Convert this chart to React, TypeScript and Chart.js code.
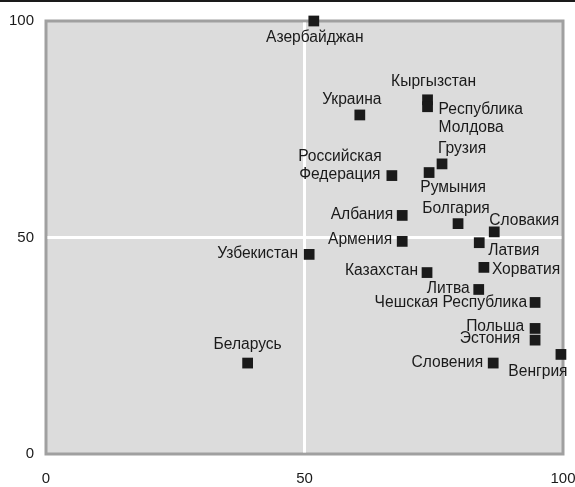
import React, { useEffect, useRef } from "react";
import { Chart, registerables } from "chart.js";

Chart.register(...registerables);

// ---- data ----
const countries = [
  "Азербайджан", "Украина", "Кыргызстан", "Республика Молдова", "Грузия",
  "Румыния", "Российская Федерация", "Албания", "Болгария", "Словакия",
  "Армения", "Латвия", "Узбекистан", "Казахстан", "Хорватия", "Литва",
  "Чешская Республика", "Польша", "Эстония", "Словения", "Венгрия", "Беларусь",
];
const xValues = [51.8, 60.7, 73.8, 73.8, 76.6, 74.1, 66.9, 68.9, 79.7, 86.7, 68.9, 83.8, 50.9, 73.7, 84.7, 83.7, 94.6, 94.6, 94.6, 86.5, 99.6, 39.0];
const yValues = [100, 78.3, 81.8, 80.2, 67.0, 65.0, 64.3, 55.1, 53.2, 51.3, 49.1, 48.8, 46.1, 41.9, 43.1, 38.0, 35.0, 29.0, 26.3, 21.0, 23.0, 21.0];
const tickValues = [0, 50, 100];
const referenceX = 50;
const referenceY = 50;

// ---- label placement (style): [align, dx, dy, wrap] ----
const labelPlacement: [string, number, number, boolean][] = [
  ["center", 1, 17, false],
  ["center", -8, -15, false],
  ["center", 6, -18, false],
  ["left", 11, 3, true],
  ["center", 20, -15, false],
  ["center", 24, 15, false],
  ["center", -52, -19, true],
  ["right", -9, -1, false],
  ["center", -2, -15, false],
  ["left", -5, -11, false],
  ["right", -10, -2, false],
  ["left", 9, 8, false],
  ["right", -11, -1, false],
  ["right", -9, -2, false],
  ["left", 8, 2, false],
  ["right", -9, -1, false],
  ["right", -8, 0, false],
  ["right", -11, -2, false],
  ["right", -15, -1, false],
  ["right", -10, 0, false],
  ["center", -23, 17, false],
  ["center", 0, -18, false],
];

const FONT = "Liberation Sans, Arial, sans-serif";

const plotDecor = {
  id: "plotDecor",
  beforeDraw(chart: any) {
    const { ctx, chartArea: a, scales } = chart;
    ctx.save();
    ctx.fillStyle = "#ffffff";
    ctx.fillRect(0, 0, chart.width, chart.height);
    ctx.fillStyle = "#1a1a1a";
    ctx.fillRect(0, 0, chart.width, 2);
    ctx.fillStyle = "#dcdcdc";
    ctx.fillRect(a.left, a.top, a.right - a.left, a.bottom - a.top);
    ctx.strokeStyle = "#a0a0a0";
    ctx.lineWidth = 3;
    ctx.strokeRect(a.left, a.top, a.right - a.left, a.bottom - a.top);
    const xp = scales.x.getPixelForValue(referenceX);
    const yp = scales.y.getPixelForValue(referenceY);
    ctx.strokeStyle = "#ffffff";
    ctx.lineWidth = 3;
    ctx.beginPath();
    ctx.moveTo(xp, a.top + 1.5);
    ctx.lineTo(xp, a.bottom - 1.5);
    ctx.moveTo(a.left + 1.5, yp);
    ctx.lineTo(a.right - 1.5, yp);
    ctx.stroke();
    ctx.restore();
  },
};

const pointLabels = {
  id: "pointLabels",
  afterDatasetsDraw(chart: any) {
    const { ctx } = chart;
    const meta = chart.getDatasetMeta(0);
    ctx.save();
    ctx.font = `15.6px ${FONT}`;
    ctx.fillStyle = "#1a1a1a";
    ctx.textBaseline = "middle";
    meta.data.forEach((pt: any, i: number) => {
      const [align, dx, dy, wrap] = labelPlacement[i];
      ctx.textAlign = align as CanvasTextAlign;
      const lines = wrap ? countries[i].split(" ") : [countries[i]];
      lines.forEach((line, j) => {
        ctx.fillText(line, pt.x + dx, pt.y + dy + j * 18);
      });
    });
    ctx.restore();
  },
};

export default function App() {
  const ref = useRef<HTMLCanvasElement>(null);
  useEffect(() => {
    if (!ref.current) return;
    const chart = new Chart(ref.current, {
      type: "scatter",
      data: {
        datasets: [
          {
            data: xValues.map((x, i) => ({ x, y: yValues[i] })),
            backgroundColor: "#1a1a1a",
            borderWidth: 0,
            pointStyle: "rect",
            pointRadius: 7.6,
            clip: false as any,
          },
        ],
      },
      options: {
        animation: false,
        responsive: true,
        maintainAspectRatio: false,
        layout: { padding: { top: 20, right: 37, bottom: 0, left: 0 } },
        plugins: { legend: { display: false }, tooltip: { enabled: false } },
        scales: {
          x: {
            type: "linear",
            min: 0,
            max: 100,
            border: { display: false },
            grid: { display: false, drawTicks: false },
            afterBuildTicks: (s: any) => {
              s.ticks = tickValues.map((v) => ({ value: v }));
            },
            afterFit: (s: any) => {
              s.height = 33;
            },
            ticks: { padding: 16, color: "#1a1a1a", font: { family: FONT, size: 15 }, maxRotation: 0 },
          },
          y: {
            type: "linear",
            min: 0,
            max: 100,
            border: { display: false },
            grid: { display: false, drawTicks: false },
            afterBuildTicks: (s: any) => {
              s.ticks = tickValues.map((v) => ({ value: v }));
            },
            afterFit: (s: any) => {
              s.width = 46;
            },
            ticks: { padding: 12, color: "#1a1a1a", font: { family: FONT, size: 15 } },
          },
        },
      },
      plugins: [plotDecor, pointLabels],
    });
    return () => chart.destroy();
  }, []);
  return (
    <div style={{ position: "absolute", left: 0, top: 0, width: 575, height: 487, overflow: "hidden", background: "#fff" }}>
      <div style={{ position: "relative", width: 600, height: 487 }}>
        <canvas ref={ref} />
      </div>
    </div>
  );
}
